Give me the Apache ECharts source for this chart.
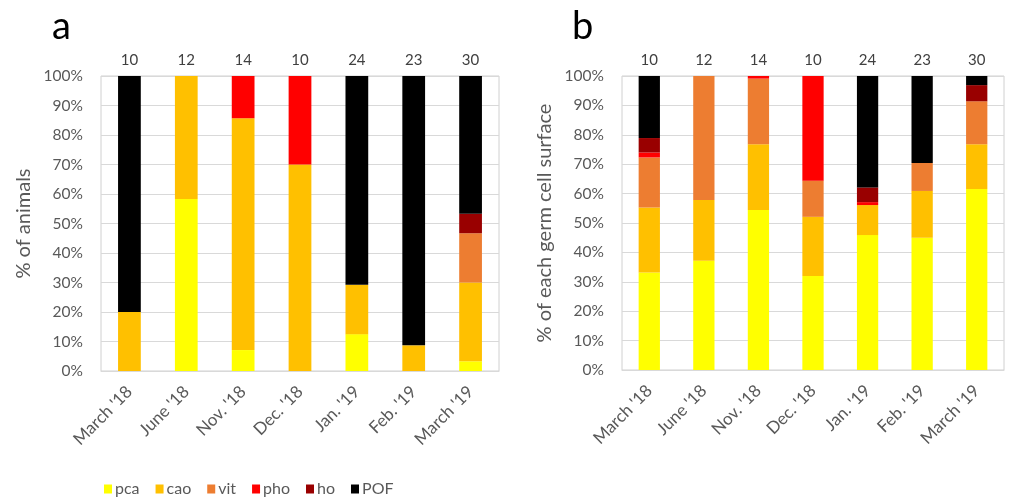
<!DOCTYPE html>
<html>
<head>
<meta charset="utf-8">
<script src="https://cdn.jsdelivr.net/npm/echarts@6/dist/echarts.min.js"></script>
<style>html,body{margin:0;padding:0;background:#fff;}#c{width:1009px;height:497px;}</style>
</head>
<body>
<div id="c"></div>
<script>
var categories = ["March '18", "June '18", "Nov. '18", "Dec. '18", "Jan. '19", "Feb. '19", "March '19"];
var counts = ['10', '12', '14', '10', '24', '23', '30'];
var yTicks = [0, 10, 20, 30, 40, 50, 60, 70, 80, 90, 100];
var seriesNames = ['pca', 'cao', 'vit', 'pho', 'ho', 'POF'];
var seriesColors = ['#FFFF00', '#FFC000', '#ED7D31', '#FF0000', '#990000', '#000000'];

// panel a: % of animals
var pcaA = [0, 58.3, 7.1, 0, 12.5, 0, 3.3];
var caoA = [20, 41.7, 78.6, 70, 16.7, 8.7, 26.7];
var vitA = [0, 0, 0, 0, 0, 0, 16.7];
var phoA = [0, 0, 14.3, 30, 0, 0, 0];
var hoA  = [0, 0, 0, 0, 0, 0, 6.6];
var pofA = [80, 0, 0, 0, 70.8, 91.3, 46.7];

// panel b: % of each germ cell surface
var pcaB = [33.2, 37.2, 54.4, 32.0, 45.9, 45.0, 61.6];
var caoB = [22.1, 20.6, 22.4, 20.1, 10.2, 15.9, 15.2];
var vitB = [17.0, 42.2, 22.3, 12.3, 0, 9.5, 14.6];
var phoB = [1.7, 0, 0.9, 35.6, 1.0, 0, 0];
var hoB  = [4.9, 0, 0, 0, 5.0, 0, 5.5];
var pofB = [21.1, 0, 0, 0, 37.9, 29.6, 3.1];

var dataA = [pcaA, caoA, vitA, phoA, hoA, pofA];
var dataB = [pcaB, caoB, vitB, phoB, hoB, pofB];

var FONT = 'Lato, "Open Sans", sans-serif';
var chart = echarts.init(document.getElementById('c'), null, {renderer: 'canvas'});

function xBottom(gi) {
  return {
    type: 'category', gridIndex: gi, data: categories, position: 'bottom',
    axisLine: {show: true, lineStyle: {color: '#d9d9d9'}},
    axisTick: {show: false},
    axisLabel: {interval: 0, rotate: 45, color: '#595959', fontSize: 17, fontFamily: FONT, margin: 18}
  };
}
function xTop(gi) {
  return {
    type: 'category', gridIndex: gi, data: counts, position: 'top',
    axisLine: {show: false}, axisTick: {show: false},
    axisLabel: {interval: 0, color: '#404040', fontSize: 15, fontFamily: FONT, margin: 8}
  };
}
function yAxis(gi, name) {
  return {
    type: 'value', gridIndex: gi, min: yTicks[0], max: yTicks[yTicks.length - 1], interval: 10,
    name: name, nameLocation: 'middle', nameRotate: 90, nameGap: 67,
    nameTextStyle: {color: '#595959', fontSize: 20, fontFamily: FONT},
    axisLine: {show: false}, axisTick: {show: false},
    axisLabel: {formatter: '{value}%', color: '#595959', fontSize: 15.5, fontFamily: FONT, margin: 18},
    splitLine: {lineStyle: {color: '#d9d9d9'}}
  };
}

var series = [];
seriesNames.forEach(function (n, i) {
  series.push({name: n, type: 'bar', stack: 'a', xAxisIndex: 0, yAxisIndex: 0, barWidth: '40%',
    itemStyle: {color: seriesColors[i]}, data: dataA[i]});
});
seriesNames.forEach(function (n, i) {
  series.push({name: n, type: 'bar', stack: 'b', xAxisIndex: 2, yAxisIndex: 1, barWidth: '39%',
    itemStyle: {color: seriesColors[i]}, data: dataB[i]});
});

chart.setOption({
  animation: false,
  backgroundColor: '#fff',
  textStyle: {fontFamily: FONT},
  grid: [
    {left: 101, top: 76, width: 398, height: 295, show: true, borderColor: '#d0d0d0', borderWidth: 1, backgroundColor: 'transparent'},
    {left: 622, top: 76, width: 382, height: 294, show: true, borderColor: '#d0d0d0', borderWidth: 1, backgroundColor: 'transparent'}
  ],
  xAxis: [xBottom(0), xTop(0), xBottom(1), xTop(1)],
  yAxis: [yAxis(0, '% of animals'), yAxis(1, '% of each germ cell surface')],
  legend: {
    left: 99, top: 476, itemWidth: 8, itemHeight: 9, itemGap: 16,
    icon: 'rect',
    textStyle: {color: '#595959', fontSize: 16, fontFamily: FONT, padding: [0, 0, 0, -2]},
    data: seriesNames
  },
  graphic: [
    {type: 'text', left: 52, top: 8, style: {text: 'a', font: '38px ' + FONT, fill: '#000'}},
    {type: 'text', left: 572, top: 8, style: {text: 'b', font: '38px ' + FONT, fill: '#000'}}
  ],
  series: series
});
</script>
</body>
</html>
